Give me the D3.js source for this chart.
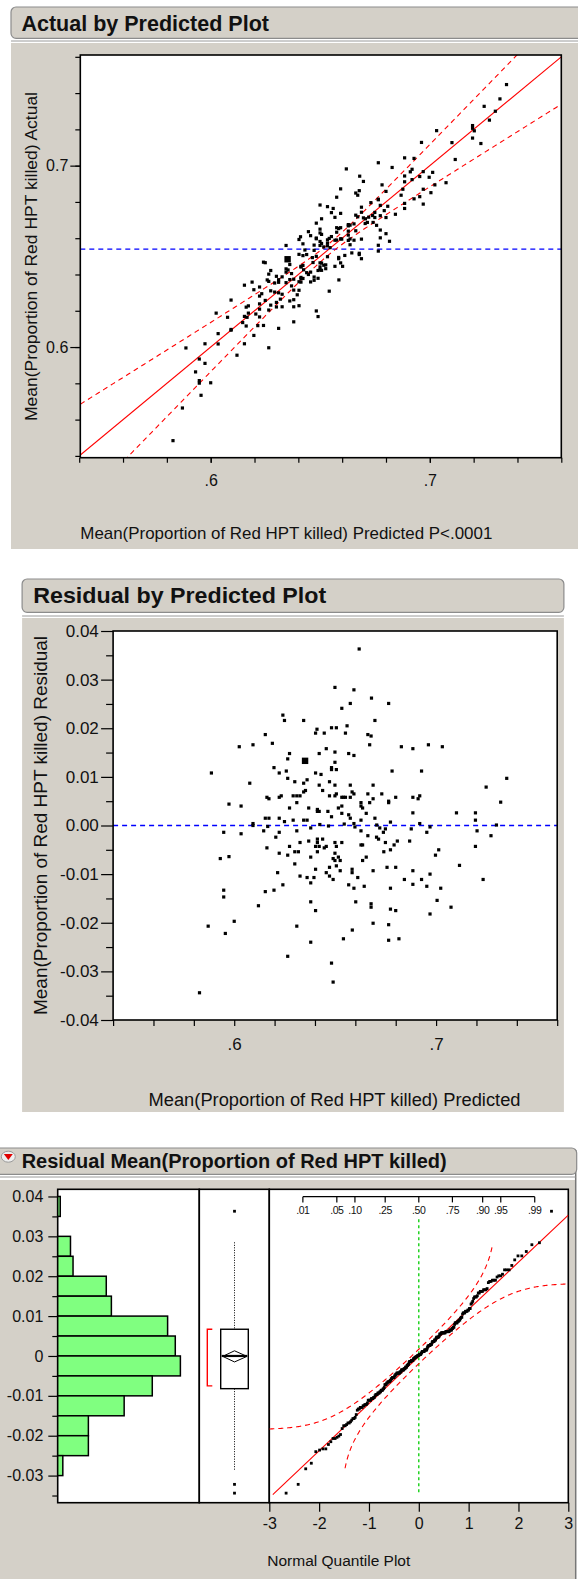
<!DOCTYPE html>
<html>
<head>
<meta charset="utf-8">
<script src="https://cdn.jsdelivr.net/npm/d3@7"></script>
<style>
  body { margin: 0; background: #fff; }
  svg { display: block; }
</style>
</head>
<body>
<script>
// ---- data (predicted value, residual) ----
const predicted = [
  0.6241, 0.6249, 0.6154, 0.6025, 0.6093, 0.6189, 0.6274, 0.6265, 0.5887, 0.6197,
  0.6223, 0.6258, 0.6265, 0.6077, 0.6162, 0.6172, 0.6223, 0.6233, 0.5974, 0.6034,
  0.6274, 0.6154, 0.6172, 0.6223, 0.6249, 0.6093,
  0.6619, 0.6499, 0.6593, 0.6680, 0.6575, 0.6765, 0.6533, 0.6344, 0.6697, 0.6410,
  0.6403, 0.6446, 0.6482, 0.6506, 0.6559, 0.6551, 0.6662, 0.6678, 0.6671, 0.6421,
  0.6456, 0.6499, 0.6567, 0.6593, 0.6499, 0.6482, 0.6482, 0.6506, 0.6782, 0.6403,
  0.6430, 0.6300, 0.6344, 0.6361, 0.6472, 0.6499, 0.6575, 0.6688, 0.6421, 0.6438,
  0.6344, 0.6353, 0.6584, 0.6593, 0.6292, 0.6310, 0.6326, 0.6472, 0.6499, 0.6506,
  0.6533, 0.6541, 0.6551, 0.6575, 0.6662, 0.6731, 0.6800, 0.6688, 0.6671, 0.6628,
  0.6628, 0.6636, 0.6765, 0.6765, 0.6310, 0.6369, 0.6412, 0.6412, 0.6421, 0.6464,
  0.6516, 0.6533, 0.6533, 0.6567, 0.6575, 0.6482, 0.6654, 0.6628, 0.6697, 0.6774,
  0.6292, 0.6344, 0.6361, 0.6593,
  0.6828, 0.6885, 0.6962, 0.7031, 0.6928, 0.6885, 0.6911, 0.6919, 0.6885, 0.7101,
  0.7195, 0.7195, 0.6919, 0.6877, 0.6970, 0.7203, 0.6954, 0.6869, 0.7195, 0.7013,
  0.6997, 0.7116, 0.6885, 0.6843, 0.6928, 0.6970, 0.7233, 0.6885, 0.6954, 0.7023,
  0.7005, 0.7074, 0.6970, 0.6816,
  0.7350, 0.7248, 0.7320, 0.7299, 0.7272,
  0.5948, 0.6034, 0.6093, 0.6146, 0.6206, 0.6223, 0.6162, 0.6223, 0.6274, 0.6265,
  0.5931, 0.5974, 0.6215, 0.6241, 0.5948, 0.5948, 0.6154, 0.6197, 0.6120, 0.5871,
  0.6000, 0.5956, 0.6265, 0.5828,
  0.6310, 0.6379, 0.6628, 0.6721, 0.6749, 0.6739, 0.6662, 0.6705, 0.6715, 0.6326,
  0.6369, 0.6412, 0.6412, 0.6403, 0.6421, 0.6438, 0.6446, 0.6456, 0.6499, 0.6506,
  0.6533, 0.6628, 0.6636, 0.6749, 0.6808, 0.6792, 0.6300, 0.6318, 0.6412, 0.6499,
  0.6490, 0.6499, 0.6516, 0.6525, 0.6741, 0.6774, 0.6654, 0.6636, 0.6379, 0.6300,
  0.6506, 0.6472, 0.6403, 0.6525, 0.6584, 0.6584, 0.6688, 0.6757, 0.6800, 0.6456,
  0.6326, 0.6361, 0.6395, 0.6472, 0.6490, 0.6612, 0.6379, 0.6567, 0.6593, 0.6644,
  0.6774, 0.6379, 0.6602, 0.6678, 0.6678, 0.6403, 0.6774, 0.6800, 0.6310, 0.6585,
  0.6688, 0.6765, 0.6379, 0.6541, 0.6765, 0.6482, 0.6490,
  0.6166, 0.6424, 0.6467, 0.6545, 0.6706, 0.6598
];
const residual = [
  0.0227, 0.0216, 0.0187, 0.0162, 0.0166, 0.0169, 0.0148, 0.0137, 0.0108, 0.0119,
  0.0108, 0.0112, 0.0097, 0.0087, 0.0058, 0.0055, 0.0058, 0.0061, 0.0044, 0.0040,
  0.0036, 0.0015, 0.0015, 0.0015, 0.0008, 0.0004,
  0.0363, 0.0284, 0.0279, 0.0262, 0.0251, 0.0251, 0.0241, 0.0216, 0.0216, 0.0198,
  0.0190, 0.0190, 0.0201, 0.0201, 0.0205, 0.0190, 0.0187, 0.0184, 0.0166, 0.0148,
  0.0158, 0.0151, 0.0148, 0.0144, 0.0130, 0.0119, 0.0115, 0.0115, 0.0112, 0.0108,
  0.0105, 0.0090, 0.0087, 0.0094, 0.0090, 0.0083, 0.0083, 0.0083, 0.0083, 0.0072,
  0.0069, 0.0072, 0.0069, 0.0065, 0.0061, 0.0061, 0.0061, 0.0061, 0.0061, 0.0065,
  0.0058, 0.0058, 0.0058, 0.0058, 0.0065, 0.0065, 0.0058, 0.0055, 0.0047, 0.0047,
  0.0040, 0.0036, 0.0050, 0.0047, 0.0047, 0.0036, 0.0033, 0.0029, 0.0029, 0.0029,
  0.0036, 0.0040, 0.0025, 0.0022, 0.0015, 0.0018, 0.0025, 0.0011, 0.0015, 0.0007,
  0.0011, 0.0011, 0.0011, 0.0004,
  0.0162, 0.0158, 0.0166, 0.0162, 0.0112, 0.0058, 0.0055, 0.0061, 0.0026, 0.0026,
  0.0026, 0.0011, 0.0004, -0.0007, -0.0003, -0.0011, -0.0014, -0.0032, -0.0043, -0.0050,
  -0.0061, -0.0082, -0.0093, -0.0111, -0.0111, -0.0100, -0.0111, -0.0121, -0.0125, -0.0129,
  -0.0154, -0.0168, -0.0182, -0.0233,
  0.0097, 0.0079, 0.0048, 0.0001, -0.0021,
  -0.0014, -0.0017, 0.0000, -0.0011, -0.0024, -0.0014, -0.0046, -0.0057, -0.0043, -0.0061,
  -0.0068, -0.0064, -0.0097, -0.0122, -0.0133, -0.0147, -0.0136, -0.0133, -0.0165, -0.0207,
  -0.0197, -0.0222, -0.0269, -0.0344,
  -0.0011, -0.0005, -0.0011, -0.0005, -0.0007, -0.0014, -0.0021, -0.0024, -0.0028, -0.0035,
  -0.0032, -0.0028, -0.0035, -0.0043, -0.0043, -0.0028, -0.0046, -0.0043, -0.0035, -0.0043,
  -0.0035, -0.0040, -0.0040, -0.0035, -0.0032, -0.0040, -0.0054, -0.0054, -0.0054, -0.0057,
  -0.0068, -0.0072, -0.0065, -0.0072, -0.0054, -0.0050, -0.0065, -0.0072, -0.0065, -0.0079,
  -0.0083, -0.0086, -0.0090, -0.0093, -0.0090, -0.0097, -0.0093, -0.0086, -0.0086, -0.0097,
  -0.0104, -0.0107, -0.0107, -0.0104, -0.0111, -0.0107, -0.0118, -0.0122, -0.0129, -0.0125,
  -0.0129, -0.0157, -0.0157, -0.0161, -0.0168, -0.0175, -0.0172, -0.0175, -0.0207, -0.0215,
  -0.0201, -0.0204, -0.0240, -0.0233, -0.0236, -0.0283, -0.0322,
  -0.0002, 0.0002, -0.0001, 0.0003, 0.0001, -0.0003
];
// the one row drawn with a larger marker
const markedPred = [0.6351];
const markedResid = [0.0133];

// fit summary
const meanActual = 0.654;
const ciCentre = 0.654, ciA = 0.003, ciB = 0.245;   // leverage confidence curves
const normMean = -0.00012, normSd = 0.01182, lillieD = 0.0606;

// histogram of residuals (lower bin edge, count)
const binLower = [0.035, 0.030, 0.025, 0.020, 0.015, 0.010, 0.005, 0.000, -0.005, -0.010, -0.015, -0.020, -0.025, -0.030];
const binCount = [1, 0, 5, 6, 19, 21, 43, 46, 48, 37, 26, 12, 12, 2];
const binWidth = 0.005;

// box plot summary
const whiskerLow = -0.0286, quartile1 = -0.0082, median = 0.0, quartile3 = 0.0067, whiskerHigh = 0.0285;
const meanResid = -0.0001, meanCI = 0.0014;
const shortestHalf = [-0.0075, 0.0067];

const probTicks = [0.01, 0.05, 0.10, 0.25, 0.50, 0.75, 0.90, 0.95, 0.99];
const probLabels = [".01", ".05", ".10", ".25", ".50", ".75", ".90", ".95", ".99"];
const quantTicks = [-3, -2, -1, 0, 1, 2, 3];

// ---- helpers ----
const FONT = '"Liberation Sans", Arial, Helvetica, sans-serif';
const GREY = "#d4d0c8";

function invNorm(p) {
  const a = [-3.969683028665376e+01, 2.209460984245205e+02, -2.759285104469687e+02, 1.383577518672690e+02, -3.066479806614716e+01, 2.506628277459239e+00];
  const b = [-5.447609879822406e+01, 1.615858368580409e+02, -1.556989798598866e+02, 6.680131188771972e+01, -1.328068155288572e+01];
  const c = [-7.784894002430293e-03, -3.223964580411365e-01, -2.400758277161838e+00, -2.549732539343734e+00, 4.374664141464968e+00, 2.938163982698783e+00];
  const d = [7.784695709041462e-03, 3.224671290700398e-01, 2.445134137142996e+00, 3.754408661907416e+00];
  const pl = 0.02425;
  let q, r;
  if (p < pl) {
    q = Math.sqrt(-2 * Math.log(p));
    return (((((c[0]*q+c[1])*q+c[2])*q+c[3])*q+c[4])*q+c[5]) / ((((d[0]*q+d[1])*q+d[2])*q+d[3])*q+1);
  }
  if (p > 1 - pl) {
    q = Math.sqrt(-2 * Math.log(1 - p));
    return -(((((c[0]*q+c[1])*q+c[2])*q+c[3])*q+c[4])*q+c[5]) / ((((d[0]*q+d[1])*q+d[2])*q+d[3])*q+1);
  }
  q = p - 0.5; r = q * q;
  return (((((a[0]*r+a[1])*r+a[2])*r+a[3])*r+a[4])*r+a[5])*q / (((((b[0]*r+b[1])*r+b[2])*r+b[3])*r+b[4])*r+1);
}
function normCdf(z) {
  const t = 1 / (1 + 0.3275911 * Math.abs(z) / Math.SQRT2);
  const y = 1 - (((((1.061405429*t - 1.453152027)*t) + 1.421413741)*t - 0.284496736)*t + 0.254829592)*t*Math.exp(-z*z/2);
  return z >= 0 ? (1 + y) / 2 : (1 - y) / 2;
}

function styleAxis(g, size) {
  g.select(".domain").remove();
  g.attr("font-family", FONT).attr("font-size", size);
  g.selectAll(".tick line").attr("stroke", "#000").attr("stroke-width", 1.2);
  g.selectAll(".tick text").attr("fill", "#111");
}
function label(x, y, txt, size, len, opts) {
  const t = svg.append("text")
    .attr("x", x).attr("y", y)
    .attr("font-family", FONT)
    .attr("font-size", size)
    .attr("fill", "#111")
    .text(txt);
  if (len) t.attr("textLength", len).attr("lengthAdjust", "spacingAndGlyphs");
  if (opts && opts.bold) t.attr("font-weight", "bold");
  return t;
}
function header(x, y, w, h, title, tx, ty, size, len) {
  svg.append("rect")
    .attr("x", x).attr("y", y).attr("width", w).attr("height", h)
    .attr("rx", 5)
    .attr("fill", GREY)
    .attr("stroke", "#8c8c8c").attr("stroke-width", 1.2);
  label(tx, ty, title, size, len, { bold: true });
}
const fmtDot = d => d.toFixed(1).replace(/^0/, "");

const svg = d3.select("body").append("svg")
  .attr("width", 578)
  .attr("height", 1579);

// =================== Actual by Predicted ===================
svg.append("rect").attr("x", 11).attr("y", 43).attr("width", 570).attr("height", 506).attr("fill", GREY);
header(11, 7, 575, 31.3, "Actual by Predicted Plot", 21.4, 30.7, 21.5, 247.6);
svg.append("line").attr("x1", 11).attr("x2", 578).attr("y1", 41).attr("y2", 41).attr("stroke", "#9a9a9a");

const xTop = d3.scaleLinear().domain([0.5405, 0.76]).range([80.3, 561.3]);
const yTop = d3.scaleLinear().domain([0.539, 0.761]).range([457.7, 55]);

svg.append("clipPath").attr("id", "clipTop").append("rect")
  .attr("x", 80.3).attr("y", 55).attr("width", 481).attr("height", 402.7);
svg.append("rect").attr("x", 80.3).attr("y", 55).attr("width", 481).attr("height", 402.7).attr("fill", "#fff");

const gTop = svg.append("g").attr("clip-path", "url(#clipTop)");
gTop.append("line")
  .attr("x1", xTop.range()[0]).attr("x2", xTop.range()[1])
  .attr("y1", yTop(meanActual)).attr("y2", yTop(meanActual))
  .attr("stroke", "#0000ff").attr("stroke-width", 1.3).attr("stroke-dasharray", "5,4");

const ciXs = d3.range(0.5405, 0.7601, 0.001);
const ciHalf = x => Math.sqrt(ciA * ciA + ciB * ciB * (x - ciCentre) * (x - ciCentre));
[1, -1].forEach(s => {
  gTop.append("path")
    .datum(ciXs)
    .attr("fill", "none").attr("stroke", "#ff0000").attr("stroke-width", 1.1)
    .attr("stroke-dasharray", "5,4")
    .attr("d", d3.line().x(d => xTop(d)).y(d => yTop(d + s * ciHalf(d))));
});
gTop.append("line")
  .attr("x1", xTop(0.5405)).attr("y1", yTop(0.5405))
  .attr("x2", xTop(0.76)).attr("y2", yTop(0.76))
  .attr("stroke", "#ff0000").attr("stroke-width", 1.1);

gTop.selectAll("rect.pt")
  .data(predicted.map((p, i) => [p, p + residual[i]]))
  .join("rect").attr("class", "pt")
  .attr("x", d => xTop(d[0]) - 1.6).attr("y", d => yTop(d[1]) - 1.6)
  .attr("width", 3.2).attr("height", 3.2).attr("fill", "#000");
gTop.selectAll("rect.mk")
  .data(markedPred.map((p, i) => [p, p + markedResid[i]]))
  .join("rect").attr("class", "mk")
  .attr("x", d => xTop(d[0]) - 3.2).attr("y", d => yTop(d[1]) - 3.2)
  .attr("width", 6.4).attr("height", 6.4).attr("fill", "#000");

svg.append("rect").attr("x", 80.3).attr("y", 55).attr("width", 481).attr("height", 402.7)
  .attr("fill", "none").attr("stroke", "#000").attr("stroke-width", 1.6);

svg.append("g").attr("transform", "translate(80.3,0)")
  .call(d3.axisLeft(yTop).tickValues(d3.range(0.54, 0.761, 0.02)).tickSize(5).tickFormat(""))
  .call(g => styleAxis(g, 16));
svg.append("g").attr("transform", "translate(80.3,0)")
  .call(d3.axisLeft(yTop).tickValues([0.6, 0.7]).tickSize(10).tickPadding(2).tickFormat(d => d.toFixed(1)))
  .call(g => styleAxis(g, 16));
svg.append("g").attr("transform", "translate(0,457.7)")
  .call(d3.axisBottom(xTop).tickValues(d3.range(0.54, 0.761, 0.02)).tickSize(5).tickFormat(""))
  .call(g => styleAxis(g, 16));
svg.append("g").attr("transform", "translate(0,457.7)")
  .call(d3.axisBottom(xTop).tickValues([0.6, 0.7]).tickSize(5).tickPadding(12).tickFormat(fmtDot))
  .call(g => styleAxis(g, 16));

label(80.3, 539, "Mean(Proportion of Red HPT killed) Predicted P<.0001", 17, 412);
label(0, 0, "Mean(Proportion of Red HPT killed) Actual", 17.4, 329)
  .attr("text-anchor", "middle")
  .attr("transform", "translate(37,256.5) rotate(-90)");

// =================== Residual by Predicted ===================
svg.append("rect").attr("x", 22.1).attr("y", 618).attr("width", 541.8).attr("height", 494).attr("fill", GREY);
header(22.1, 579, 541.8, 33.3, "Residual by Predicted Plot", 33.2, 603.3, 22, 293);
svg.append("line").attr("x1", 22.1).attr("x2", 563.9).attr("y1", 616).attr("y2", 616).attr("stroke", "#9a9a9a");

const xMid = d3.scaleLinear().domain([0.54, 0.76]).range([113.1, 557.2]);
const yMid = d3.scaleLinear().domain([-0.04, 0.04]).range([1020, 631]);

svg.append("rect").attr("x", 113.1).attr("y", 631).attr("width", 444.1).attr("height", 389).attr("fill", "#fff");
svg.append("line")
  .attr("x1", xMid.range()[0]).attr("x2", xMid.range()[1])
  .attr("y1", yMid(0)).attr("y2", yMid(0))
  .attr("stroke", "#0000ff").attr("stroke-width", 1.3).attr("stroke-dasharray", "5,4");
svg.selectAll("rect.rp")
  .data(predicted.map((p, i) => [p, residual[i]]))
  .join("rect").attr("class", "rp")
  .attr("x", d => xMid(d[0]) - 1.6).attr("y", d => yMid(d[1]) - 1.6)
  .attr("width", 3.2).attr("height", 3.2).attr("fill", "#000");
svg.selectAll("rect.rm")
  .data(markedPred.map((p, i) => [p, markedResid[i]]))
  .join("rect").attr("class", "rm")
  .attr("x", d => xMid(d[0]) - 3.2).attr("y", d => yMid(d[1]) - 3.2)
  .attr("width", 6.4).attr("height", 6.4).attr("fill", "#000");
svg.append("rect").attr("x", 113.1).attr("y", 631).attr("width", 444.1).attr("height", 389)
  .attr("fill", "none").attr("stroke", "#000").attr("stroke-width", 1.6);

svg.append("g").attr("transform", "translate(113.1,0)")
  .call(d3.axisLeft(yMid).tickValues(d3.range(-0.035, 0.04, 0.01)).tickSize(7).tickFormat(""))
  .call(g => styleAxis(g, 17));
svg.append("g").attr("transform", "translate(113.1,0)")
  .call(d3.axisLeft(yMid).tickValues(d3.range(-0.04, 0.0401, 0.01)).tickSize(12).tickPadding(2.3)
    .tickFormat(d => (Math.abs(d) < 1e-9 ? 0 : d).toFixed(2)))
  .call(g => styleAxis(g, 17));
svg.append("g").attr("transform", "translate(0,1020)")
  .call(d3.axisBottom(xMid).tickValues(d3.range(0.54, 0.761, 0.02)).tickSize(6).tickPadding(12)
    .tickFormat(d => (Math.abs(d - 0.6) < 1e-9 || Math.abs(d - 0.7) < 1e-9) ? fmtDot(d) : ""))
  .call(g => styleAxis(g, 17));

label(148.5, 1106, "Mean(Proportion of Red HPT killed) Predicted", 18, 372);
label(0, 0, "Mean(Proportion of Red HPT killed) Residual", 19, 379)
  .attr("text-anchor", "middle")
  .attr("transform", "translate(47,825.5) rotate(-90)");

// =================== Residual distribution ===================
svg.append("rect").attr("x", 0).attr("y", 1180).attr("width", 575.7).attr("height", 400).attr("fill", GREY);
svg.append("line").attr("x1", 575.7).attr("x2", 575.7).attr("y1", 1150).attr("y2", 1579)
  .attr("stroke", "#777").attr("stroke-width", 1.5);
header(-6, 1148, 582.7, 26.3, "Residual Mean(Proportion of Red HPT killed)", 21.7, 1167.7, 20, 425);
svg.append("line").attr("x1", 0).attr("x2", 575.7).attr("y1", 1177).attr("y2", 1177).attr("stroke", "#9a9a9a");
// disclosure icon
svg.append("ellipse").attr("cx", 8.3).attr("cy", 1156.7).attr("rx", 7).attr("ry", 5.5)
  .attr("fill", "#eeeeee").attr("stroke", "#9a9a9a");
svg.append("path").attr("d", "M3.8,1154 L12.8,1154 L8.3,1160 Z").attr("fill", "#e00000");

const yBot = d3.scaleLinear().domain([-0.0368, 0.0418]).range([1502.7, 1189.3]);
const xHist = d3.scaleLinear().domain([0, 55.4]).range([57.7, 199.3]);
const xQ = d3.scaleLinear().domain([-3, 3]).range([269.3, 568.3]);

// panels
[[57.7, 199.3], [199.3, 269.3], [269.3, 568.3]].forEach(([a, b]) => {
  svg.append("rect").attr("x", a).attr("y", 1189.3).attr("width", b - a).attr("height", 313.4)
    .attr("fill", "#fff").attr("stroke", "#000").attr("stroke-width", 1.6);
});

// histogram
svg.selectAll("rect.bin")
  .data(binLower.map((lo, i) => ({ lo, n: binCount[i] })).filter(d => d.n > 0))
  .join("rect").attr("class", "bin")
  .attr("x", xHist(0))
  .attr("y", d => yBot(d.lo + binWidth))
  .attr("width", d => xHist(d.n) - xHist(0))
  .attr("height", d => yBot(d.lo) - yBot(d.lo + binWidth))
  .attr("fill", "#80ff80").attr("stroke", "#000").attr("stroke-width", 1.5);

svg.append("g").attr("transform", "translate(57.7,0)")
  .call(d3.axisLeft(yBot).tickValues(d3.range(-0.035, 0.04, 0.01)).tickSize(5.4).tickFormat(""))
  .call(g => styleAxis(g, 16));
svg.append("g").attr("transform", "translate(57.7,0)")
  .call(d3.axisLeft(yBot).tickValues(d3.range(-0.03, 0.0401, 0.01)).tickSize(9.4).tickPadding(5)
    .tickFormat(d => Math.abs(d) < 1e-9 ? "0" : d.toFixed(2)))
  .call(g => styleAxis(g, 16));

// box plot
const bx = 234.5, bw = 27.6;
const allResid = residual.concat(markedResid);
svg.append("line").attr("x1", bx).attr("x2", bx).attr("y1", yBot(whiskerHigh)).attr("y2", yBot(quartile3))
  .attr("stroke", "#000").attr("stroke-dasharray", "1,1.5");
svg.append("line").attr("x1", bx).attr("x2", bx).attr("y1", yBot(quartile1)).attr("y2", yBot(whiskerLow))
  .attr("stroke", "#000").attr("stroke-dasharray", "1,1.5");
svg.append("rect").attr("x", bx - bw / 2).attr("y", yBot(quartile3))
  .attr("width", bw).attr("height", yBot(quartile1) - yBot(quartile3))
  .attr("fill", "#fff").attr("stroke", "#000").attr("stroke-width", 1.4);
svg.append("path")
  .attr("d", `M${bx - 11.8},${yBot(meanResid)} L${bx},${yBot(meanResid + meanCI)} L${bx + 12.5},${yBot(meanResid)} L${bx},${yBot(meanResid - meanCI)} Z`)
  .attr("fill", "none").attr("stroke", "#000").attr("stroke-width", 1);
svg.append("line").attr("x1", bx - 12.8).attr("x2", bx + 12.8).attr("y1", yBot(median)).attr("y2", yBot(median))
  .attr("stroke", "#000").attr("stroke-width", 2.2);
svg.selectAll("rect.out")
  .data(allResid.filter(r => r > whiskerHigh || r < whiskerLow))
  .join("rect").attr("class", "out")
  .attr("x", bx - 1.4).attr("y", d => yBot(d) - 1.4)
  .attr("width", 2.8).attr("height", 2.8).attr("fill", "#000");
svg.append("path")
  .attr("d", `M212.3,${yBot(shortestHalf[1])} H207.3 V${yBot(shortestHalf[0])} H212.3`)
  .attr("fill", "none").attr("stroke", "#ff0000").attr("stroke-width", 1.4);

// normal quantile plot
svg.append("clipPath").attr("id", "clipQ").append("rect")
  .attr("x", 269.3).attr("y", 1189.3).attr("width", 299).attr("height", 313.4);
const gQ = svg.append("g").attr("clip-path", "url(#clipQ)");

const rExt = d3.extent(allResid);
gQ.append("line").attr("x1", xQ(0)).attr("x2", xQ(0))
  .attr("y1", yBot(rExt[1]) + 8).attr("y2", yBot(rExt[0]))
  .attr("stroke", "#00cc00").attr("stroke-width", 1.3).attr("stroke-dasharray", "3,3");

const qs = d3.range(-3, 3.001, 0.02);
const bandUp = qs.map(q => [q, normCdf(q) + lillieD]).filter(d => d[1] < 1 && invNorm(d[1]) < 2.5)
  .map(d => [d[0], normMean + normSd * invNorm(d[1])]);
const bandLo = qs.map(q => [q, normCdf(q) - lillieD]).filter(d => d[1] > 0 && invNorm(d[1]) > -2.5)
  .map(d => [d[0], normMean + normSd * invNorm(d[1])]);
[bandUp, bandLo].forEach(band => {
  gQ.append("path").datum(band)
    .attr("fill", "none").attr("stroke", "#ff0000").attr("stroke-width", 1.1).attr("stroke-dasharray", "5,4")
    .attr("d", d3.line().x(d => xQ(d[0])).y(d => yBot(d[1])));
});
gQ.append("line")
  .attr("x1", xQ(-2.93)).attr("y1", yBot(normMean + normSd * -2.93))
  .attr("x2", xQ(3)).attr("y2", yBot(normMean + normSd * 3))
  .attr("stroke", "#ff0000").attr("stroke-width", 1.1);

const sorted = allResid.slice().sort(d3.ascending);
const nQ = sorted.length;
gQ.selectAll("rect.qp")
  .data(sorted.map((r, i) => [invNorm((i + 1) / (nQ + 1)), r]))
  .join("rect").attr("class", "qp")
  .attr("x", d => xQ(d[0]) - 1.4).attr("y", d => yBot(d[1]) - 1.4)
  .attr("width", 2.8).attr("height", 2.8).attr("fill", "#000");

// probability scale along the top
const probG = svg.append("g");
probG.append("line")
  .attr("x1", xQ(invNorm(probTicks[0]))).attr("x2", xQ(invNorm(probTicks[probTicks.length - 1])))
  .attr("y1", 1196.7).attr("y2", 1196.7).attr("stroke", "#000").attr("stroke-width", 1.2);
probTicks.forEach((p, i) => {
  const x = xQ(invNorm(p));
  probG.append("line").attr("x1", x).attr("x2", x).attr("y1", 1196.7).attr("y2", 1202.4)
    .attr("stroke", "#000").attr("stroke-width", 1.2);
  probG.append("text").attr("x", x).attr("y", 1214)
    .attr("text-anchor", "middle")
    .attr("font-family", FONT).attr("font-size", 10.5).attr("letter-spacing", -0.4)
    .attr("fill", "#111")
    .text(probLabels[i]);
});

svg.append("g").attr("transform", "translate(0,1502.7)")
  .call(d3.axisBottom(xQ).tickValues(quantTicks).tickSize(9).tickPadding(5.5).tickFormat(d => String(d)))
  .call(g => styleAxis(g, 16));
label(267.3, 1566, "Normal Quantile Plot", 15.5, 143);
</script>
</body>
</html>
